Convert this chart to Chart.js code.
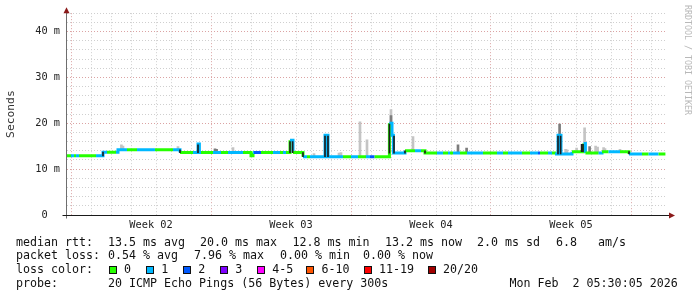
<!DOCTYPE html>
<html>
<head>
<meta charset="utf-8">
<script src="https://cdn.jsdelivr.net/npm/chart.js@4/dist/chart.umd.min.js"></script>
<style>
    html, body { margin:0; padding:0; background:#fff; }
    #wrap { position:relative; width:697px; height:297px; overflow:hidden; background:#fff; }
    #chart { position:absolute; left:0; top:0; }
    .lg { position:absolute; font-family:"DejaVu Sans Mono", monospace; font-size:11.65px; line-height:14px; color:#111; white-space:pre; }
    .box { position:absolute; width:6px; height:6px; border:1px solid #111; }
    #wm { position:absolute; left:683px; top:5px; font-family:"DejaVu Sans Mono", monospace; font-size:8.3px; line-height:10px; color:#b8b8b8; writing-mode:vertical-rl; white-space:pre; }
</style>
</head>
<body>
<div id="wrap">
    <canvas id="chart" width="697" height="297"></canvas>
    <div id="legend"></div>
    <div id="wm">RRDTOOL / TOBI OETIKER</div>
</div>
<script>
// x is days from the left edge of the graph (30 days shown), y is milliseconds
const weekLabels  = ['Week 02', 'Week 03', 'Week 04', 'Week 05'];
const weekLabelAt = [4.2, 11.2, 18.2, 25.2];
const weekStarts  = [0.7, 7.7, 14.7, 21.7, 28.7];
const dayLines    = [0.7,1.7,2.7,3.7,4.7,5.7,6.7,7.7,8.7,9.7,10.7,11.7,12.7,13.7,14.7,15.7,16.7,17.7,18.7,19.7,20.7,21.7,22.7,23.7,24.7,25.7,26.7,27.7,28.7,29.7];
const yTickVals   = [0,2,4,6,8,10,12,14,16,18,20,22,24,26,28,30,32,34,36,38,40,42,44];

const lossColors = ['#26ff00', '#00b8ff', '#0059ff', '#7e00ff', '#ff00ff', '#ff5500', '#ff0000', '#a10000'];
const lossLabels = ['0', '1', '2', '3', '4-5', '6-10', '11-19', '20/20'];

// median rtt, stepped; loss = lost pings for the step starting at that point
const medianX = [0,0.2,0.35,0.45,0.6,1.45,1.8,2.0,2.45,2.55,3.0,3.5,4.4,5.3,5.65,6.3,6.55,6.62,6.7,7.3,7.7,8.05,8.8,9.2,9.3,9.35,9.7,10.3,10.65,10.8,10.95,11.15,11.3,11.8,12.0,12.15,12.9,13.05,13.8,14.2,14.55,14.95,15.15,15.38,16.12,16.25,16.32,16.9,17.4,17.7,17.9,18.5,18.8,19.05,19.15,19.3,19.65,20.0,20.8,21.5,21.8,22.05,22.75,23.15,23.55,23.65,24.05,24.25,24.4,24.55,24.7,25.25,25.83,25.92,26.58,26.75,27.08,27.65,28.1,28.75,29.08,29.58,29.92];
const medianY = [12.9,12.9,12.9,12.9,12.9,12.9,13.7,13.7,13.7,14.2,14.2,14.2,14.2,14.2,13.6,13.6,15.5,13.6,13.6,13.6,13.6,13.6,13.6,12.9,13.6,13.6,13.6,13.6,13.6,13.6,13.6,16.3,13.6,12.7,12.7,12.7,17.4,12.7,12.7,12.7,12.7,12.7,12.7,12.7,20.0,17.4,13.5,14.0,14.0,14.0,13.5,13.5,13.5,13.5,13.5,13.5,13.5,13.5,13.5,13.5,13.5,13.5,13.5,13.5,13.5,13.5,13.5,13.5,13.3,17.4,13.3,13.8,15.6,13.5,13.5,13.8,13.8,13.8,13.3,13.3,13.3,13.3,13.3];
const medianLoss = [0,1,0,1,0,1,1,0,1,1,0,1,0,1,0,1,1,1,0,1,0,1,0,0,1,2,0,1,0,1,0,1,0,1,0,1,1,1,0,1,0,1,2,0,1,1,1,0,1,0,0,1,0,1,0,1,0,1,0,1,0,1,0,1,2,0,1,0,1,1,1,0,1,0,1,0,1,0,1,0,1,0,0];

// smoke: ping spread around the median (x, low, high)
const smokeLightX  = [2.72,2.8,5.55,8.3,12.35,13.6,13.7,14.65,15.0,16.2,17.3,24.93,25.0,25.48,25.88,26.43,26.53,26.83,26.9,27.65];
const smokeLightLo = [14.2,14.2,14.2,13.6,12.7,12.7,12.7,12.7,12.7,20.0,14.0,13.3,13.3,13.8,15.6,13.5,13.5,13.8,13.8,13.8];
const smokeLightHi = [15.3,15.0,14.9,14.7,13.4,13.5,13.6,20.3,16.4,23.0,17.1,14.3,14.2,14.6,19.0,15.0,14.8,14.7,14.5,14.3];

const smokeMidX  = [7.4,7.48,19.55,19.98,26.13,24.63,16.2];
const smokeMidLo = [13.6,13.6,13.5,13.5,13.5,17.4,20.0];
const smokeMidHi = [14.4,14.3,15.3,14.6,14.9,19.8,21.7];

const smokeDarkX  = [1.8,5.65,6.55,11.15,11.28,11.8,12.9,13.05,16.12,16.35,16.9,17.9,24.55,24.68,25.73,25.8,28.1];
const smokeDarkLo = [12.9,13.6,13.6,13.6,13.6,12.7,12.7,12.7,13.5,13.5,13.5,13.5,13.3,13.3,13.8,13.8,13.3];
const smokeDarkHi = [13.7,14.2,15.3,16.0,16.0,13.6,17.2,17.2,19.8,17.2,14.0,14.0,17.2,17.2,15.4,15.4,13.8];

const legendRows = [
    [['median rtt:', 16], ['13.5 ms avg', 108], ['20.0 ms max', 200], ['12.8 ms min', 292.5], ['13.2 ms now', 385], ['2.0 ms sd', 477], ['6.8', 556], ['am/s', 598]],
    [['packet loss:', 16], ['0.54 % avg', 108], ['7.96 % max', 194], ['0.00 % min', 280], ['0.00 % now', 363]],
    [['loss color:', 16]],
    [['probe:', 16], ['20 ICMP Echo Pings (56 Bytes) every 300s', 108], ['Mon Feb  2 05:30:05 2026', 509.5]]
];
const lossBoxX = [108.5, 145.7, 182.7, 219.7, 256.7, 306, 363.5, 427.5];

const rowTop = [234.5, 248, 262, 276.3];
const legendEl = document.getElementById('legend');
legendRows.forEach((row, r) => {
    row.forEach(([txt, x]) => {
        const s = document.createElement('div');
        s.className = 'lg';
        s.style.left = x + 'px';
        s.style.top  = rowTop[r] + 'px';
        s.textContent = txt;
        legendEl.appendChild(s);
    });
});
lossLabels.forEach((lab, i) => {
    const b = document.createElement('div');
    b.className = 'box';
    b.style.left = lossBoxX[i] + 'px';
    b.style.top = '265.5px';
    b.style.background = lossColors[i];
    legendEl.appendChild(b);
    const t = document.createElement('div');
    t.className = 'lg';
    t.style.left = (lossBoxX[i] + 15.5) + 'px';
    t.style.top = rowTop[2] + 'px';
    t.textContent = lab;
    legendEl.appendChild(t);
});

const toPts  = (xs, ys) => xs.map((x, i) => ({ x, y: ys[i] }));
const toBars = (xs, lo, hi) => xs.map((x, i) => ({ x, y: [lo[i], hi[i]] }));
const tickVal = c => (c && c.tick) ? c.tick.value : null;

const axisArrows = {
    id: 'axisArrows',
    afterDraw(chart) {
        const { ctx, chartArea: a } = chart;
        const L = Math.round(a.left) - 0.5, B = Math.round(a.bottom) + 0.5;
        ctx.save();
        ctx.lineWidth = 1;
        ctx.strokeStyle = '#6e6e6e';
        ctx.beginPath(); ctx.moveTo(L, B + 3); ctx.lineTo(L, a.top - 2); ctx.stroke();
        ctx.strokeStyle = '#1a1a1a';
        ctx.beginPath(); ctx.moveTo(L - 4, B); ctx.lineTo(a.right + 3, B); ctx.stroke();
        ctx.fillStyle = '#8b1a1a';
        ctx.beginPath(); ctx.moveTo(L, a.top - 6); ctx.lineTo(L - 3, a.top); ctx.lineTo(L + 3, a.top); ctx.closePath(); ctx.fill();
        ctx.beginPath(); ctx.moveTo(a.right + 8, B); ctx.lineTo(a.right + 2, B - 3); ctx.lineTo(a.right + 2, B + 3); ctx.closePath(); ctx.fill();
        ctx.restore();
    }
};

const tickFont = { family: 'DejaVu Sans Mono', size: 10.3 };

new Chart(document.getElementById('chart'), {
    type: 'line',
    data: {
        datasets: [
            {
                type: 'line', label: 'median', order: 1,
                data: toPts(medianX, medianY),
                stepped: true, borderWidth: 3, pointRadius: 0, fill: false,
                borderColor: lossColors[0], borderCapStyle: 'butt', borderJoinStyle: 'miter',
                segment: { borderColor: c => lossColors[medianLoss[c.p0DataIndex]] }
            },
            { type: 'bar', label: 'smoke light', order: 3, grouped: false, barThickness: 2, backgroundColor: '#c4c4c4', borderWidth: 0, data: toBars(smokeLightX, smokeLightLo, smokeLightHi) },
            { type: 'bar', label: 'smoke mid',   order: 2, grouped: false, barThickness: 2, backgroundColor: '#7c7c7c', borderWidth: 0, data: toBars(smokeMidX, smokeMidLo, smokeMidHi) },
            { type: 'bar', label: 'smoke dark',  order: 0, grouped: false, barThickness: 1, backgroundColor: '#1e1e1e', borderWidth: 0, data: toBars(smokeDarkX, smokeDarkLo, smokeDarkHi) }
        ]
    },
    options: {
        responsive: false, animation: false, devicePixelRatio: 1,
        layout: { padding: { left: 0, right: 30, top: 13, bottom: 0 } },
        plugins: { legend: { display: false }, tooltip: { enabled: false } },
        scales: {
            x: {
                type: 'linear', min: 0, max: 30, offset: false,
                afterBuildTicks: s => { s.ticks = dayLines.concat(weekLabelAt).sort((a, b) => a - b).map(v => ({ value: v })); },
                afterFit: s => { s.height = 82; },
                ticks: {
                    autoSkip: false, maxRotation: 0, minRotation: 0, padding: 4, font: tickFont, color: '#222',
                    callback: v => { const i = weekLabelAt.indexOf(v); return i >= 0 ? weekLabels[i] : ''; }
                },
                grid: {
                    drawTicks: false, lineWidth: 1,
                    color: c => {
                        const v = tickVal(c);
                        if (v === null || weekLabelAt.includes(v)) return 'rgba(0,0,0,0)';
                        return weekStarts.includes(v) ? '#dba3a3' : '#cfcfcf';
                    }
                },
                border: { display: false, dash: [1, 2] }
            },
            y: {
                type: 'linear', min: 0, max: 44,
                afterBuildTicks: s => { s.ticks = yTickVals.map(v => ({ value: v })); },
                afterFit: s => { s.width = 67; },
                ticks: {
                    autoSkip: false, padding: 7, font: tickFont, color: '#222',
                    callback: v => v % 10 === 0 ? (v === 0 ? '0  ' : v + ' m') : ''
                },
                grid: {
                    drawTicks: false, lineWidth: 1,
                    color: c => {
                        const v = tickVal(c);
                        if (v === null) return 'rgba(0,0,0,0)';
                        return v % 10 === 0 ? '#dba3a3' : '#cfcfcf';
                    }
                },
                border: { display: false, dash: [1, 2] },
                title: { display: true, text: 'Seconds', color: '#333', font: { family: 'DejaVu Sans Mono', size: 11.3 }, padding: { top: 4, bottom: 0 } }
            }
        }
    },
    plugins: [axisArrows]
});
</script>
</body>
</html>
